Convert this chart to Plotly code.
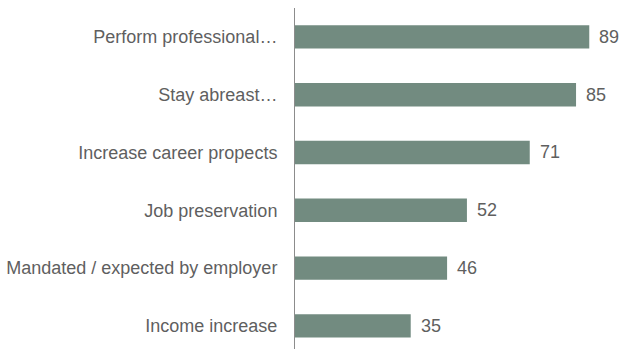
import plotly.graph_objects as go

# Reasons for continuing education, count of respondents
reasons = [
    "Perform professional…",
    "Stay abreast…",
    "Increase career propects",
    "Job preservation",
    "Mandated / expected by employer",
    "Income increase",
]
counts = [89, 85, 71, 52, 46, 35]

bar_color = "#728b80"
text_color = "#5f5f5f"
font_family = "Liberation Sans, Arial, sans-serif"

fig = go.Figure(
    go.Bar(
        x=counts,
        y=reasons,
        orientation="h",
        marker=dict(color=bar_color, line=dict(width=0)),
        width=0.405,
        hoverinfo="skip",
    )
)

# value labels just past the end of each bar
for reason, value in zip(reasons, counts):
    fig.add_annotation(
        x=value,
        y=reason,
        text=str(value),
        showarrow=False,
        xanchor="left",
        yanchor="middle",
        xshift=8,
        font=dict(family=font_family, size=18, color=text_color),
    )

fig.update_layout(
    width=622,
    height=349,
    margin=dict(l=295, r=0, t=8, b=0),
    paper_bgcolor="white",
    plot_bgcolor="white",
    showlegend=False,
    font=dict(family=font_family, size=18, color=text_color),
)

fig.update_xaxes(
    range=[0, 98.9],
    showgrid=False,
    zeroline=False,
    showline=False,
    showticklabels=False,
    ticks="",
)

fig.update_yaxes(
    categoryorder="array",
    categoryarray=reasons,
    range=[5.4, -0.5],
    showgrid=False,
    zeroline=False,
    showline=True,
    linecolor="#8c8c8c",
    linewidth=1,
    ticks="outside",
    ticklen=13,
    tickcolor="rgba(0,0,0,0)",
    tickfont=dict(family=font_family, size=18, color=text_color),
)

fig.write_html("out.html")
